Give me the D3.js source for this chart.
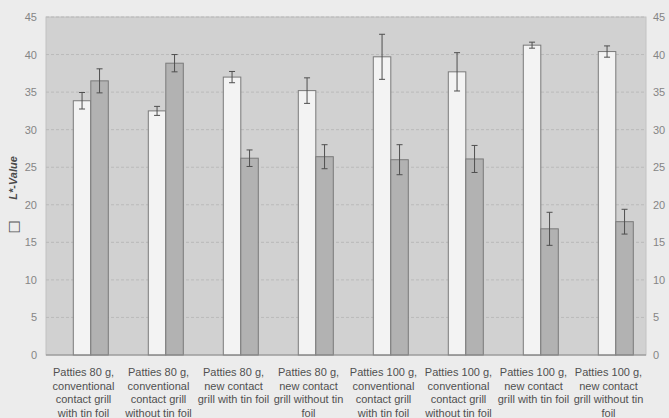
<!DOCTYPE html>
<html>
<head>
<meta charset="utf-8">
<script src="https://cdn.jsdelivr.net/npm/d3@7"></script>
<style>
  body { margin: 0; background: #ececec; }
  svg { display: block; font-family: "Liberation Sans", Arial, sans-serif; }
</style>
</head>
<body>
<div class="chart"></div>
<script>
// chart data
var categories = [
  "Patties 80 g, conventional contact grill with tin foil",
  "Patties 80 g, conventional contact grill without tin foil",
  "Patties 80 g, new contact grill with tin foil",
  "Patties 80 g, new contact grill without tin foil",
  "Patties 100 g, conventional contact grill with tin foil",
  "Patties 100 g, conventional contact grill without tin foil",
  "Patties 100 g, new contact grill with tin foil",
  "Patties 100 g, new contact grill without tin foil"
];
var seriesNames = ["white", "grey"];
var whiteValues = [33.85, 32.5, 37.0, 35.2, 39.7, 37.7, 41.25, 40.4];
var whiteErrors = [1.1, 0.6, 0.75, 1.7, 3.0, 2.55, 0.4, 0.75];
var greyValues = [36.5, 38.85, 26.2, 26.4, 26.0, 26.1, 16.8, 17.75];
var greyErrors = [1.6, 1.15, 1.1, 1.6, 2.0, 1.8, 2.2, 1.65];
var yTicks = [0, 5, 10, 15, 20, 25, 30, 35, 40, 45];

var svgWidth = 669;
var svgHeight = 418;
var margin = { top: 17, right: 23, bottom: 63, left: 46 };
var width = svgWidth - margin.left - margin.right;
var height = svgHeight - margin.top - margin.bottom;

var svg = d3.select(".chart")
  .append("svg")
  .attr("width", svgWidth)
  .attr("height", svgHeight);

var chart = svg.append("g")
  .attr("transform", "translate(" + margin.left + "," + margin.top + ")");

// scales
var xScale = d3.scaleBand().domain(categories).range([0, width]);
var xInner = d3.scaleBand().domain(seriesNames).range([27.3, 62.3]);
var yScale = d3.scaleLinear().domain([0, 45]).range([height, 0]);

// plot area background
chart.append("rect")
  .attr("width", width)
  .attr("height", height)
  .attr("fill", "#d1d1d1")
  .attr("stroke", "#c2c2c2");

// gridlines
chart.append("g")
  .selectAll("line")
  .data(yTicks.slice(1))
  .enter()
  .append("line")
  .attr("x1", 0)
  .attr("x2", width)
  .attr("y1", function (d) { return yScale(d); })
  .attr("y2", function (d) { return yScale(d); })
  .attr("stroke", "#bababa")
  .attr("stroke-dasharray", "3,2");

// flatten data into bars
var bars = [];
categories.forEach(function (c, i) {
  bars.push({ cat: c, series: "white", value: whiteValues[i], err: whiteErrors[i] });
  bars.push({ cat: c, series: "grey", value: greyValues[i], err: greyErrors[i] });
});

chart.append("g")
  .selectAll("rect")
  .data(bars)
  .enter()
  .append("rect")
  .attr("x", function (d) { return xScale(d.cat) + xInner(d.series); })
  .attr("y", function (d) { return yScale(d.value); })
  .attr("width", xInner.bandwidth())
  .attr("height", function (d) { return height - yScale(d.value); })
  .attr("fill", function (d) { return d.series === "white" ? "#f3f3f3" : "#b2b2b2"; })
  .attr("stroke", "#7a7a7a")
  .attr("stroke-width", 1);

// error bars
var errG = chart.append("g")
  .selectAll("g")
  .data(bars)
  .enter()
  .append("g")
  .attr("stroke", "#4f4f4f")
  .attr("stroke-width", 1);

errG.append("line")
  .attr("x1", function (d) { return xScale(d.cat) + xInner(d.series) + xInner.bandwidth() / 2; })
  .attr("x2", function (d) { return xScale(d.cat) + xInner(d.series) + xInner.bandwidth() / 2; })
  .attr("y1", function (d) { return yScale(d.value + d.err); })
  .attr("y2", function (d) { return yScale(d.value - d.err); });

errG.append("line")
  .attr("x1", function (d) { return xScale(d.cat) + xInner(d.series) + xInner.bandwidth() / 2 - 3; })
  .attr("x2", function (d) { return xScale(d.cat) + xInner(d.series) + xInner.bandwidth() / 2 + 3; })
  .attr("y1", function (d) { return yScale(d.value + d.err); })
  .attr("y2", function (d) { return yScale(d.value + d.err); });

errG.append("line")
  .attr("x1", function (d) { return xScale(d.cat) + xInner(d.series) + xInner.bandwidth() / 2 - 3; })
  .attr("x2", function (d) { return xScale(d.cat) + xInner(d.series) + xInner.bandwidth() / 2 + 3; })
  .attr("y1", function (d) { return yScale(d.value - d.err); })
  .attr("y2", function (d) { return yScale(d.value - d.err); });

// bottom axis line
chart.append("line")
  .attr("x1", 0)
  .attr("x2", width)
  .attr("y1", height)
  .attr("y2", height)
  .attr("stroke", "#8a8a8a");

// left and right axes (labels only)
var yAxisLeft = d3.axisLeft(yScale).tickValues(yTicks).tickSize(0).tickPadding(9);
var yAxisRight = d3.axisRight(yScale).tickValues(yTicks).tickSize(0).tickPadding(7);

chart.append("g").attr("class", "y-axis").call(yAxisLeft);
chart.append("g").attr("class", "y-axis")
  .attr("transform", "translate(" + width + ",0)")
  .call(yAxisRight);

chart.selectAll(".y-axis .domain").remove();
chart.selectAll(".y-axis text")
  .attr("font-size", "11px")
  .attr("font-family", "Liberation Sans, Arial, sans-serif")
  .attr("fill", "#858585");

// category labels, wrapped
var labels = chart.append("g")
  .selectAll("text")
  .data(categories)
  .enter()
  .append("text")
  .attr("x", function (d) { return xScale(d) + xScale.bandwidth() / 2; })
  .attr("y", height + 21)
  .attr("text-anchor", "middle")
  .attr("font-size", "11px")
  .attr("fill", "#505050");

labels.each(function (d) {
  var text = d3.select(this);
  var words = d.split(" ");
  var line = [];
  var tspan = text.append("tspan").attr("x", text.attr("x")).attr("dy", 0);
  words.forEach(function (w) {
    line.push(w);
    tspan.text(line.join(" "));
    if (tspan.node().getComputedTextLength() > 75 && line.length > 1) {
      line.pop();
      tspan.text(line.join(" "));
      line = [w];
      tspan = text.append("tspan").attr("x", text.attr("x")).attr("dy", 13.5).text(w);
    }
  });
});

// y axis title
svg.append("text")
  .attr("transform", "translate(17,178)rotate(-90)")
  .attr("text-anchor", "middle")
  .attr("font-size", "11px")
  .attr("font-style", "italic")
  .attr("font-weight", "bold")
  .attr("fill", "#4a4a4a")
  .text("L*-Value");

svg.append("text")
  .attr("transform", "translate(18,227)rotate(-90)")
  .attr("text-anchor", "middle")
  .attr("font-size", "14px")
  .attr("font-family", "DejaVu Sans, sans-serif")
  .attr("fill", "#555")
  .text("□");
</script>
</body>
</html>
